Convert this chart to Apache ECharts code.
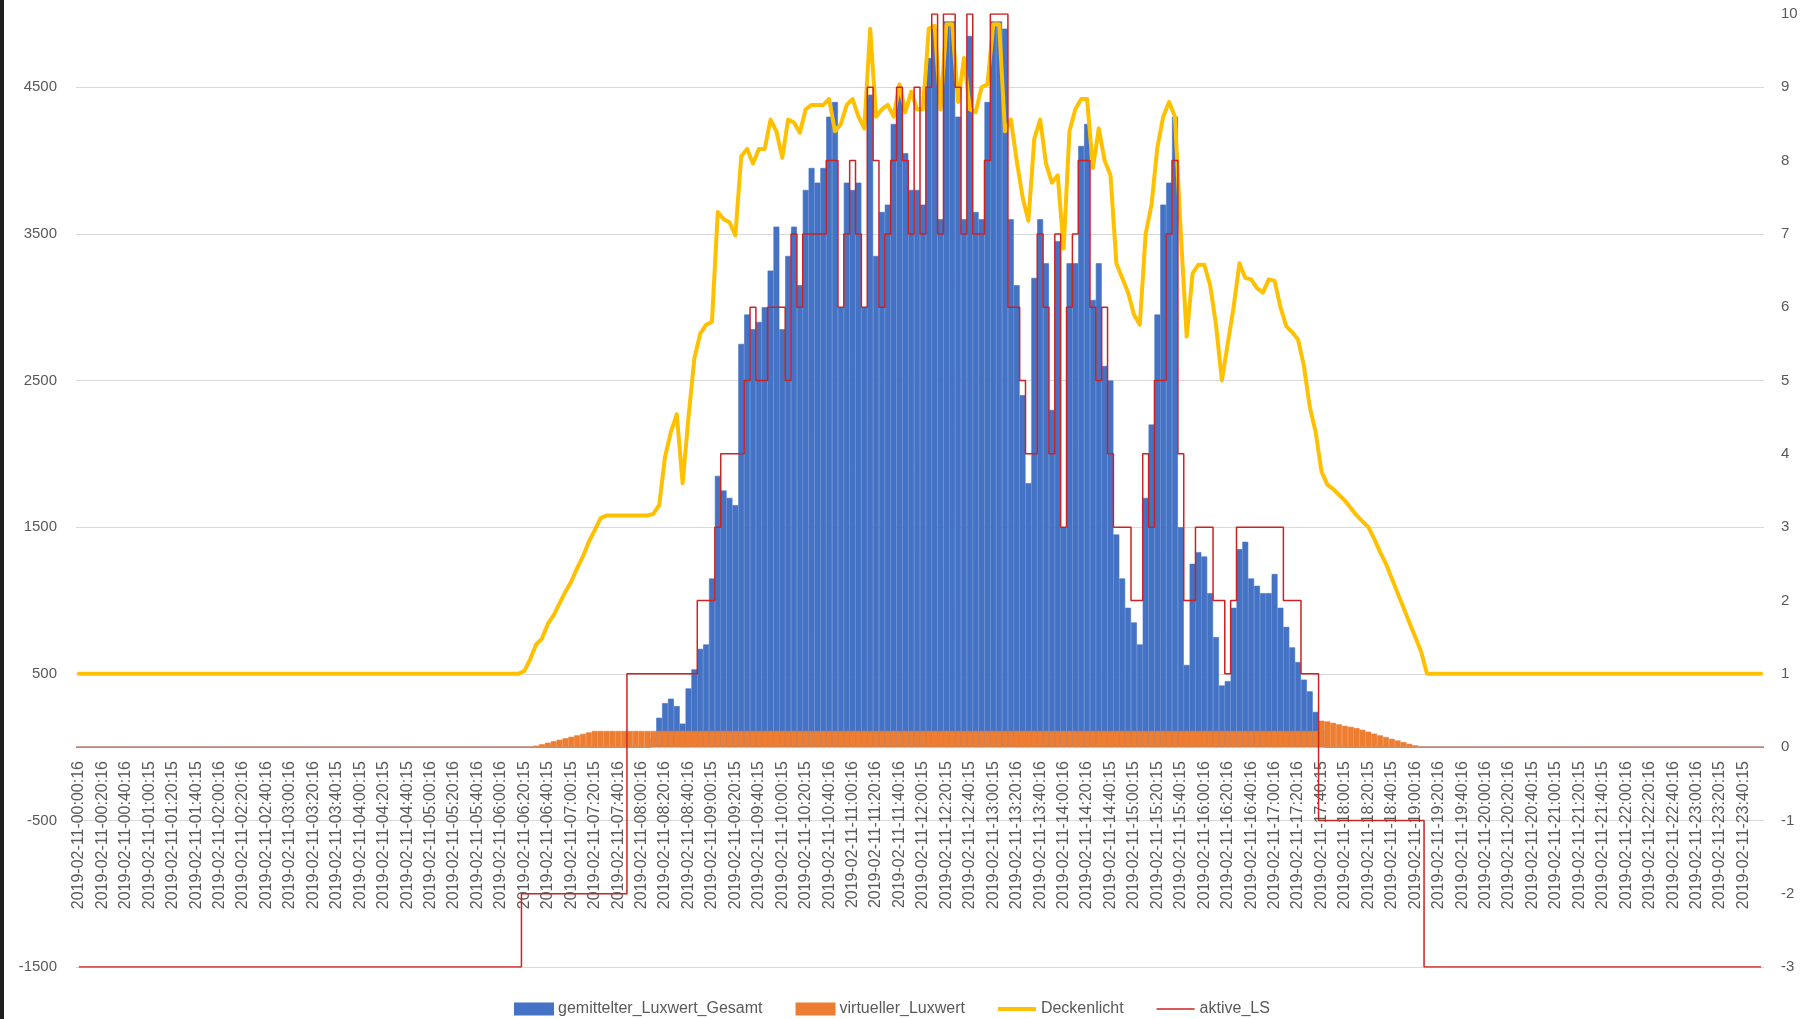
<!DOCTYPE html>
<html lang="de">
<head>
<meta charset="UTF-8">
<title>Luxwerte 2019-02-11</title>
<script src="https://cdn.jsdelivr.net/npm/echarts@6/dist/echarts.min.js"></script>
<style>
html, body { margin: 0; padding: 0; background: #fff; }
#main { width: 1803px; height: 1019px; }
</style>
</head>
<body>
<div id="main"></div>
<script>
// Beschriftung der Zeitachse (alle 20 Minuten, Sekunden wie im Export)
var tickTimes = [
  '00:00:16','00:20:16','00:40:16','01:00:15','01:20:15','01:40:15','02:00:16','02:20:16','02:40:16',
  '03:00:16','03:20:16','03:40:15','04:00:15','04:20:15','04:40:15','05:00:16','05:20:16','05:40:16',
  '06:00:16','06:20:15','06:40:15','07:00:15','07:20:15','07:40:16','08:00:16','08:20:16','08:40:16',
  '09:00:15','09:20:15','09:40:15','10:00:15','10:20:15','10:40:16','11:00:16','11:20:16','11:40:16',
  '12:00:15','12:20:15','12:40:15','13:00:15','13:20:16','13:40:16','14:00:16','14:20:16','14:40:15',
  '15:00:15','15:20:15','15:40:15','16:00:16','16:20:16','16:40:16','17:00:16','17:20:16','17:40:15',
  '18:00:15','18:20:15','18:40:15','19:00:16','19:20:16','19:40:16','20:00:16','20:20:16','20:40:15',
  '21:00:15','21:20:15','21:40:15','22:00:16','22:20:16','22:40:16','23:00:16','23:20:15','23:40:15'
];
var datum = '2019-02-11';

// gemittelter_Luxwert_Gesamt, 5-Minuten-Werte ab luxStart (sonst 0)
var luxStart = '08:00';
var luxGesamt = [
  0, 0, 60, 200, 300, 330, 280, 160, 400, 530, 670, 700,
  1150, 1850, 1750, 1700, 1650, 2750, 2950, 2850, 2900, 3000, 3250, 3550,
  2850, 3350, 3550, 3150, 3800, 3950, 3850, 3950, 4300, 4400, 3000, 3850,
  3800, 3850, 3000, 4450, 3350, 3650, 3700, 4250, 4450, 4050, 3800, 3800,
  3700, 4700, 4900, 3600, 4950, 4950, 4300, 3600, 4850, 3650, 3600, 4400,
  4950, 4950, 4900, 3600, 3150, 2400, 1800, 3200, 3600, 3300, 2300, 3450,
  1500, 3300, 3300, 4100, 4250, 3050, 3300, 2600, 2500, 1450, 1150, 950,
  850, 700, 1700, 2200, 2950, 3700, 3850, 4300, 1500, 560, 1250, 1330,
  1300, 1050, 750, 420, 450, 950, 1350, 1400, 1150, 1100, 1050, 1050,
  1180, 950, 820, 680, 580, 460, 380, 240, 120, 0
];

// virtueller_Luxwert ab virtStart (sonst 0)
var virtStart = '06:25';
var virtLux = [
  0, 10, 20, 30, 40, 50, 60,
  70, 80, 90, 100, 110, 110, 110, 110, 110, 110, 110, 110,
  110, 110, 110, 110, 110, 110, 110, 110, 110, 110, 110, 110,
  110, 110, 110, 110, 110, 110, 110, 110, 110, 110, 110, 110,
  110, 110, 110, 110, 110, 110, 110, 110, 110, 110, 110, 110,
  110, 110, 110, 110, 110, 110, 110, 110, 110, 110, 110, 110,
  110, 110, 110, 110, 110, 110, 110, 110, 110, 110, 110, 110,
  110, 110, 110, 110, 110, 110, 110, 110, 110, 110, 110, 110,
  110, 110, 110, 110, 110, 110, 110, 110, 110, 110, 110, 110,
  110, 110, 110, 110, 110, 110, 110, 110, 110, 110, 110, 110,
  110, 110, 110, 110, 110, 110, 110, 110, 110, 110, 110, 110,
  110, 110, 110, 110, 110, 110, 110, 110, 180, 175, 165, 155,
  145, 138, 130, 118, 105, 92, 80, 68, 56, 45, 34, 22,
  12, 0
];

// Deckenlicht ab deckenStart, ausserhalb Grundwert deckenBase
var deckenStart = '06:20';
var deckenBase = 500;
var deckenlicht = [
  520, 600, 700, 740, 840, 900, 980, 1060,
  1130, 1220, 1300, 1400, 1480, 1560, 1580, 1580, 1580, 1580, 1580, 1580,
  1580, 1580, 1590, 1650, 1980, 2150, 2270, 1800, 2250, 2650, 2820, 2880,
  2900, 3650, 3600, 3580, 3490, 4030, 4080, 3980, 4080, 4080, 4280, 4200,
  4020, 4280, 4260, 4190, 4350, 4380, 4380, 4380, 4420, 4200, 4250, 4380,
  4420, 4300, 4220, 4900, 4300, 4350, 4380, 4300, 4520, 4330, 4470, 4350,
  4350, 4900, 4920, 4350, 4930, 4930, 4400, 4700, 4350, 4330, 4500, 4520,
  4930, 4930, 4200, 4280, 4000, 3750, 3590, 4150, 4280, 3980, 3850, 3900,
  3400, 4200, 4350, 4420, 4420, 3950, 4220, 4000, 3900, 3300, 3200, 3100,
  2950, 2880, 3500, 3700, 4090, 4300, 4400, 4300, 3500, 2800, 3230, 3290,
  3290, 3150, 2880, 2500, 2750, 3000, 3300, 3200, 3190, 3130, 3100, 3190,
  3180, 3000, 2870, 2830, 2780, 2600, 2320, 2150, 1880, 1790, 1760, 1720,
  1680, 1630, 1580, 1540, 1500, 1420, 1330, 1250, 1150, 1050, 950, 850,
  750, 650, 500
];

// aktive_LS (rechte Achse): Zeitpunkt des Wechsels, neuer Wert
var aktiveLS = [
  ['00:00', -3], ['06:20', -2], ['07:50', 1], ['08:50', 2], ['09:05', 3], ['09:10', 4],
  ['09:30', 5], ['09:35', 6], ['09:40', 5], ['09:50', 6], ['10:05', 5], ['10:10', 7],
  ['10:15', 6], ['10:20', 7], ['10:40', 8], ['10:50', 6], ['10:55', 7], ['11:00', 8],
  ['11:05', 7], ['11:10', 6], ['11:15', 9], ['11:20', 8], ['11:25', 6], ['11:30', 7],
  ['11:35', 8], ['11:40', 9], ['11:45', 8], ['11:50', 7], ['11:55', 9], ['12:00', 7],
  ['12:05', 9], ['12:10', 10], ['12:15', 7], ['12:20', 10], ['12:30', 9], ['12:35', 7],
  ['12:40', 10], ['12:45', 7], ['12:55', 8], ['13:00', 10], ['13:15', 6], ['13:25', 5],
  ['13:30', 4], ['13:40', 7], ['13:45', 6], ['13:50', 4], ['13:55', 7], ['14:00', 3],
  ['14:05', 6], ['14:10', 7], ['14:15', 8], ['14:25', 6], ['14:30', 5], ['14:35', 6],
  ['14:40', 4], ['14:45', 3], ['15:00', 2], ['15:10', 4], ['15:15', 3], ['15:20', 5],
  ['15:30', 7], ['15:35', 8], ['15:40', 4], ['15:45', 2], ['15:55', 3], ['16:10', 2],
  ['16:20', 1], ['16:25', 2], ['16:30', 3], ['17:10', 2], ['17:25', 1], ['17:40', -1],
  ['19:10', -3]
];

var SLOTS = 288;
function slot(t) {
  var p = t.split(':');
  return (parseInt(p[0], 10) * 60 + parseInt(p[1], 10)) / 5;
}
function pad(n) { return (n < 10 ? '0' : '') + n; }

// Kategorien im 5-Minuten-Raster
var kategorien = [];
for (var i = 0; i < SLOTS; i++) {
  var p = tickTimes[Math.floor(i / 4)].split(':');
  var m = parseInt(p[0], 10) * 60 + parseInt(p[1], 10) + (i % 4) * 5;
  kategorien.push(datum + '-' + pad(Math.floor(m / 60)) + ':' + pad(m % 60) + ':' + p[2]);
}

function place(start, values, base) {
  var out = [];
  for (var k = 0; k < SLOTS; k++) out.push(base);
  var s = slot(start);
  values.forEach(function (v, k) { out[s + k] = v; });
  return out;
}

var lsData = [];
for (var j = 0; j < SLOTS; j++) {
  var val = aktiveLS[0][1];
  aktiveLS.forEach(function (c) { if (slot(c[0]) <= j) val = c[1]; });
  lsData.push(val);
}

var grau = '#595959';
var yMin = -1500, yMax = 5000;
var gridTop = 14, gridBottom = 52, chartH = 1019;
// Zeitachse sitzt auf der Null-Linie der linken Achse
var plotH = chartH - gridTop - gridBottom;
var nullOffset = -Math.round(plotH * (0 - yMin) / (yMax - yMin));

var myChart = echarts.init(document.getElementById('main'));
myChart.setOption({
  animation: false,
  backgroundColor: '#fff',
  textStyle: { fontFamily: 'Liberation Sans, Arial, sans-serif' },
  graphic: [{
    type: 'rect', left: 0, top: 0,
    shape: { width: 4, height: 1019 },
    style: { fill: '#1f1f1f' }
  }],
  legend: {
    left: 509, top: 996,
    itemWidth: 38, itemHeight: 11, itemGap: 33,
    textStyle: { color: grau, fontSize: 16 },
    data: [
      { name: 'gemittelter_Luxwert_Gesamt', icon: 'rect' },
      { name: 'virtueller_Luxwert', icon: 'rect' },
      { name: 'Deckenlicht', icon: 'path://M0 0H38V4H0Z' },
      { name: 'aktive_LS', icon: 'path://M0 0H38V1.5H0Z' }
    ]
  },
  grid: { left: 76, right: 39, top: gridTop, bottom: gridBottom, containLabel: false, outerBoundsMode: 'none' },
  xAxis: {
    type: 'category',
    data: kategorien,
    boundaryGap: true,
    offset: nullOffset,
    axisLine: { onZero: false, lineStyle: { color: '#d9d9d9', width: 1 } },
    axisTick: { show: false },
    axisLabel: { interval: 3, rotate: 90, margin: 14, color: grau, fontSize: 16 },
    splitLine: { show: false }
  },
  yAxis: [{
    type: 'value', min: yMin, max: yMax, interval: 1000,
    axisLine: { show: false }, axisTick: { show: false },
    axisLabel: { color: grau, fontSize: 15, margin: 19, showMaxLabel: false,
      formatter: function (v) { return String(v); } },
    splitLine: { show: true, showMaxLine: false, lineStyle: { color: '#d9d9d9', width: 1 } }
  }, {
    type: 'value', min: -3, max: 10, interval: 1, position: 'right',
    axisLine: { show: false }, axisTick: { show: false },
    axisLabel: { color: grau, fontSize: 15, margin: 17 },
    splitLine: { show: false }
  }],
  series: [{
    name: 'gemittelter_Luxwert_Gesamt',
    type: 'bar',
    data: place(luxStart, luxGesamt, 0),
    barCategoryGap: '0%',
    barGap: '-100%',
    itemStyle: { color: '#4472c4', borderColor: '#4472c4', borderWidth: 0.6 }
  }, {
    name: 'virtueller_Luxwert',
    type: 'bar',
    data: place(virtStart, virtLux, 0),
    barCategoryGap: '0%',
    barGap: '-100%',
    itemStyle: { color: '#ed7d31', borderColor: '#ed7d31', borderWidth: 0.6 }
  }, {
    name: 'Deckenlicht',
    type: 'line',
    data: place(deckenStart, deckenlicht, deckenBase),
    symbol: 'none',
    lineStyle: { color: '#ffc000', width: 4, cap: 'round', join: 'round' },
    itemStyle: { color: '#ffc000' }
  }, {
    name: 'aktive_LS',
    type: 'line',
    yAxisIndex: 1,
    step: 'middle',
    data: lsData,
    symbol: 'none',
    lineStyle: { color: '#cc2222', width: 1.5 },
    itemStyle: { color: '#cc2222' }
  }]
});
</script>
</body>
</html>
